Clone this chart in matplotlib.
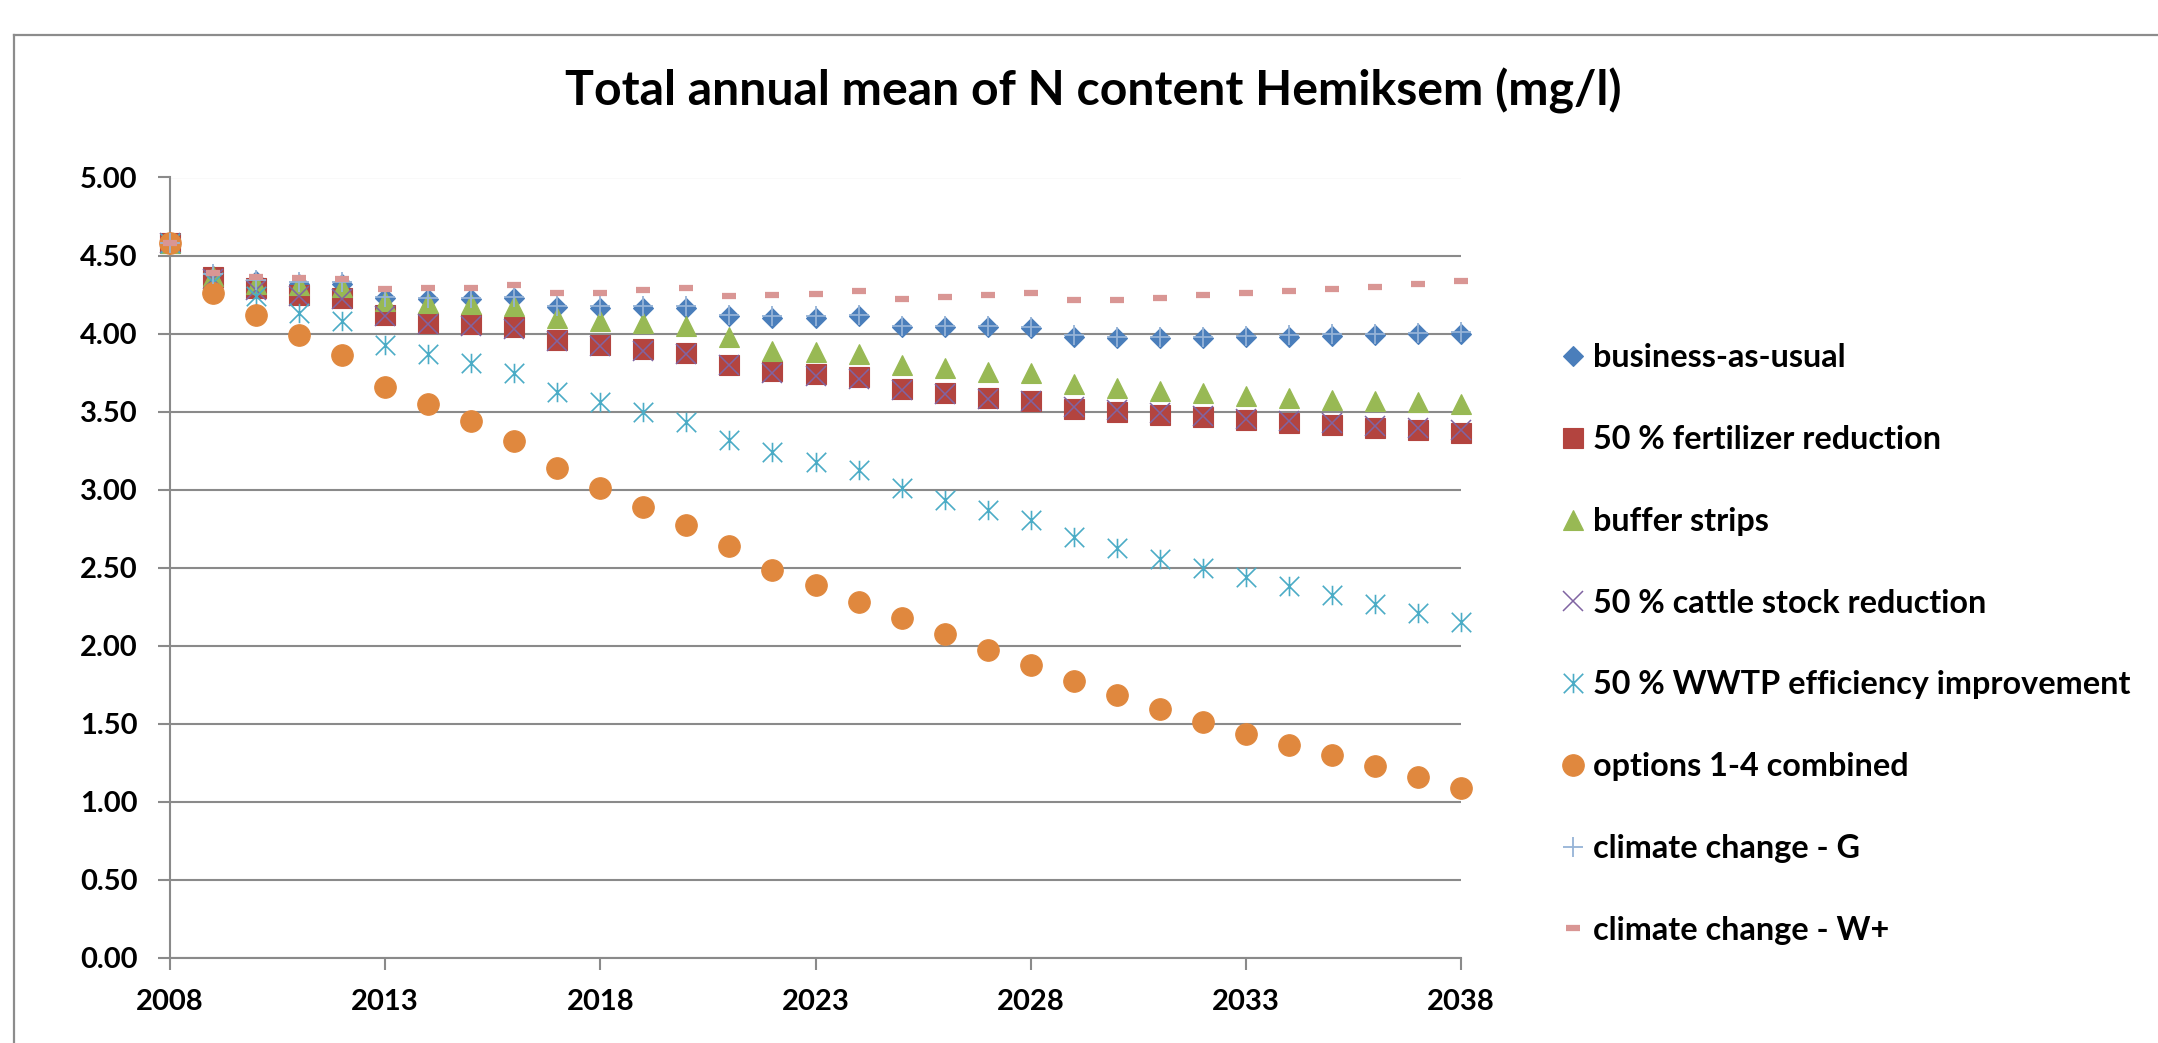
import matplotlib
matplotlib.use("Agg")
import matplotlib.pyplot as plt
from matplotlib.path import Path
from matplotlib.lines import Line2D
import numpy as np

plt.rcParams['font.family'] = ['Lato', 'DejaVu Sans']
plt.rcParams['font.weight'] = 'bold'

years = list(range(2008, 2039))

business_as_usual = [4.58, 4.37, 4.335, 4.32, 4.32, 4.227, 4.22, 4.22, 4.225, 4.173, 4.167,
                     4.167, 4.167, 4.11, 4.103, 4.103, 4.11, 4.044, 4.04, 4.04, 4.034,
                     3.98, 3.97, 3.97, 3.97, 3.976, 3.98, 3.985, 3.99, 3.998, 4.00]
fertilizer_reduction = [4.58, 4.36, 4.29, 4.25, 4.23, 4.116, 4.07, 4.06, 4.04, 3.96, 3.927,
                        3.90, 3.876, 3.80, 3.76, 3.74, 3.72, 3.645, 3.62, 3.59, 3.568,
                        3.52, 3.50, 3.479, 3.466, 3.447, 3.43, 3.414, 3.397, 3.382, 3.365]
buffer_strips = [4.58, 4.37, 4.32, 4.31, 4.30, 4.21, 4.195, 4.19, 4.18, 4.10, 4.08,
                 4.07, 4.05, 3.98, 3.89, 3.88, 3.87, 3.80, 3.78, 3.756, 3.745,
                 3.675, 3.654, 3.635, 3.618, 3.60, 3.59, 3.577, 3.566, 3.562, 3.55]
cattle_reduction = [4.58, 4.35, 4.28, 4.24, 4.22, 4.11, 4.06, 4.05, 4.03, 3.95, 3.92,
                    3.89, 3.87, 3.80, 3.75, 3.73, 3.71, 3.64, 3.61, 3.58, 3.57,
                    3.53, 3.51, 3.49, 3.475, 3.455, 3.44, 3.425, 3.41, 3.395, 3.38]
wwtp_improvement = [4.58, 4.33, 4.24, 4.13, 4.08, 3.93, 3.87, 3.81, 3.75, 3.625, 3.56,
                    3.50, 3.434, 3.317, 3.243, 3.18, 3.126, 3.01, 2.935, 2.87, 2.806,
                    2.695, 2.624, 2.553, 2.496, 2.438, 2.382, 2.325, 2.267, 2.212, 2.154]
options_combined = [4.58, 4.26, 4.12, 3.99, 3.865, 3.66, 3.55, 3.44, 3.31, 3.137, 3.01,
                    2.886, 2.776, 2.638, 2.485, 2.387, 2.28, 2.175, 2.075, 1.975, 1.876,
                    1.777, 1.684, 1.595, 1.513, 1.436, 1.364, 1.30, 1.23, 1.157, 1.087]
climate_g = [4.58, 4.38, 4.345, 4.33, 4.33, 4.237, 4.23, 4.23, 4.235, 4.18, 4.175,
             4.175, 4.175, 4.12, 4.11, 4.11, 4.12, 4.05, 4.05, 4.05, 4.04,
             3.99, 3.98, 3.98, 3.98, 3.985, 3.99, 3.995, 4.00, 4.005, 4.01]
climate_wplus = [4.58, 4.386, 4.36, 4.356, 4.35, 4.285, 4.295, 4.295, 4.31, 4.262, 4.262,
                 4.277, 4.29, 4.24, 4.25, 4.256, 4.27, 4.22, 4.235, 4.25, 4.26,
                 4.216, 4.216, 4.23, 4.246, 4.259, 4.274, 4.286, 4.30, 4.316, 4.338]

labels = ["business-as-usual", "50 % fertilizer reduction", "buffer strips",
          "50 % cattle stock reduction", "50 % WWTP efficiency improvement",
          "options 1-4 combined", "climate change - G", "climate change - W+"]
title = "Total annual mean of N content Hemiksem (mg/l)"
x_ticks = [2008, 2013, 2018, 2023, 2028, 2033, 2038]
y_ticks = [0.0, 0.5, 1.0, 1.5, 2.0, 2.5, 3.0, 3.5, 4.0, 4.5, 5.0]

W, H = 2158, 1043
fig = plt.figure(figsize=(W / 100, H / 100), dpi=100)
ax = fig.add_axes([170 / W, 1 - 958 / H, (1461 - 170) / W, (958 - 177.5) / H])

star_path = Path([(0, -1), (0, 1), (-1, -1), (1, 1), (-1, 1), (1, -1)],
                 [Path.MOVETO, Path.LINETO, Path.MOVETO, Path.LINETO, Path.MOVETO, Path.LINETO])

styles = [
    dict(marker='D', ms=10.5, color='#4A7EBB', mec='#4A7EBB', mew=0.8),
    dict(marker='s', ms=15, color='#B3443F', mec='#B3443F', mew=0.8),
    dict(marker='^', ms=15, color='#98B954', mec='#98B954', mew=0.8),
    dict(marker='x', ms=14, color='#8064A2', mew=1.1),
    dict(marker=star_path, ms=14, color='#4BACC6', mew=1.2),
    dict(marker='o', ms=15.5, color='#E0883E', mec='#E0883E', mew=0.8),
    dict(marker='+', ms=14.5, color='#95B3D7', mew=1.3),
    dict(marker='_', ms=9.5, color='#D99694', mew=4.5),
]
series = [business_as_usual, fertilizer_reduction, buffer_strips, cattle_reduction,
          wwtp_improvement, options_combined, climate_g, climate_wplus]

handles = []
for vals, lab, st in zip(series, labels, styles):
    h, = ax.plot(years, vals, linestyle='none', label=lab, clip_on=False, zorder=3, **st)
    handles.append(h)

ax.set_xlim(2008, 2038)
ax.set_ylim(0, 5)
ax.set_xticks(x_ticks)
ax.set_yticks(y_ticks)
ax.set_yticklabels([f"{v:.2f}" for v in y_ticks])
ax.set_xticklabels([str(v) for v in x_ticks])
ax.set_axisbelow(True)
ax.yaxis.grid(True, color='#8A8A8A', linewidth=1.5)
ax.xaxis.grid(False)
for s in ['top', 'right']:
    ax.spines[s].set_visible(False)
for s in ['left', 'bottom']:
    ax.spines[s].set_color('#8A8A8A')
    ax.spines[s].set_linewidth(1.5)
ax.tick_params(axis='both', direction='out', length=8.5, width=1.5, color='#8A8A8A',
               labelsize=21, labelcolor='black')
ax.tick_params(axis='y', pad=15)
ax.tick_params(axis='x', pad=14)
for t in ax.get_xticklabels() + ax.get_yticklabels():
    t.set_fontweight('bold')

fig.text(1093 / W, 1 - 91 / H, title, ha='center', va='center', fontsize=34.7,
         fontweight='bold', color='black')

leg = fig.legend(handles=handles, loc='center left',
                 bbox_to_anchor=(1557 / W, 1 - 644 / H), bbox_transform=fig.transFigure,
                 frameon=False, fontsize=23.3, handlelength=1.0, handletextpad=0.12,
                 labelspacing=1.63, borderpad=0, borderaxespad=0, markerscale=1.0)
for t in leg.get_texts():
    t.set_fontweight('bold')

# outer chart frame (cropped at right and bottom)
fx, fy = 14 / W, 1 - 35 / H
fig.add_artist(Line2D([fx, 1.0], [fy, fy], transform=fig.transFigure, color='#8C8C8C', lw=1.6))
fig.add_artist(Line2D([fx, fx], [0.0, fy], transform=fig.transFigure, color='#8C8C8C', lw=1.6))

fig.savefig("out.png", dpi=100, facecolor='white')
